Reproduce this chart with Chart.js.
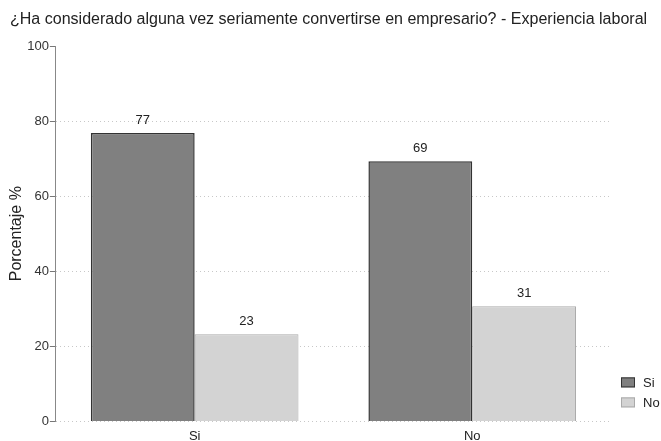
<!DOCTYPE html>
<html>
<head>
<meta charset="utf-8">
<script src="https://cdn.jsdelivr.net/npm/chart.js@4/dist/chart.umd.min.js"></script>
<style>
html,body{margin:0;padding:0;background:#fff;}
#wrap{width:661px;height:441px;}
</style>
</head>
<body>
<div id="wrap"><canvas id="c" width="661" height="441"></canvas></div>
<script>
const categories = ["Si", "No"];
const seriesNames = ["Si", "No"];
const siValues = [76.8, 69.3];
const noValues = [23.2, 30.7];
const yTicks = [0, 20, 40, 60, 80, 100];
const chartTitle = '¿Ha considerado alguna vez seriamente convertirse en empresario? - Experiencia laboral';

const FONT = '"Liberation Sans", Arial, sans-serif';

const valueLabels = {
  id: 'valueLabels',
  afterDatasetsDraw(chart) {
    const ctx = chart.ctx;
    ctx.save();
    ctx.font = '13px ' + FONT;
    ctx.fillStyle = '#222';
    ctx.textAlign = 'center';
    ctx.textBaseline = 'bottom';
    chart.data.datasets.forEach((ds, i) => {
      chart.getDatasetMeta(i).data.forEach((bar, j) => {
        ctx.fillText(Math.round(ds.data[j]).toString(), bar.x, bar.y - 6);
      });
    });
    ctx.restore();
  }
};

const customTitle = {
  id: 'customTitle',
  afterDraw(chart) {
    const ctx = chart.ctx;
    ctx.save();
    ctx.font = '16px ' + FONT;
    const w = ctx.measureText(chartTitle).width;
    const size = Math.min(17, 16 * 638 / w);
    ctx.font = size.toFixed(2) + 'px ' + FONT;
    ctx.fillStyle = '#222';
    ctx.textAlign = 'left';
    ctx.textBaseline = 'middle';
    ctx.fillText(chartTitle, 10, 20);
    ctx.restore();
  }
};

const customLegend = {
  id: 'customLegend',
  afterDraw(chart) {
    const ctx = chart.ctx;
    const x0 = chart.chartArea.right + 10;
    const yBottom = chart.chartArea.bottom - 19;
    const n = chart.data.datasets.length;
    ctx.save();
    ctx.font = '13px ' + FONT;
    ctx.textAlign = 'left';
    ctx.textBaseline = 'middle';
    chart.data.datasets.forEach((ds, i) => {
      const cy = yBottom - (n - 1 - i) * 20;
      ctx.fillStyle = ds.backgroundColor;
      ctx.fillRect(x0, cy - 5, 14, 10);
      ctx.strokeStyle = ds.borderColor;
      ctx.lineWidth = 1;
      ctx.strokeRect(x0 + 0.5, cy - 4.5, 13, 9);
      ctx.fillStyle = '#222';
      ctx.fillText(ds.label, x0 + 22, cy + 1);
    });
    ctx.restore();
  }
};

new Chart(document.getElementById('c'), {
  type: 'bar',
  data: {
    labels: categories,
    datasets: [
      { label: seriesNames[0], data: siValues, backgroundColor: '#808080', borderColor: '#333333', borderWidth: 1.5, barPercentage: 1, categoryPercentage: 0.748 },
      { label: seriesNames[1], data: noValues, backgroundColor: '#d3d3d3', borderColor: '#aaaaaa', borderWidth: 1, barPercentage: 1, categoryPercentage: 0.748 }
    ]
  },
  options: {
    responsive: false,
    animation: false,
    layout: { padding: { left: 3, right: 50, top: 46, bottom: -10 } },
    plugins: {
      title: { display: false },
      legend: { display: false },
      tooltip: { enabled: false }
    },
    scales: {
      x: {
        grid: { display: false, drawTicks: false },
        border: { display: false },
        ticks: { color: '#222', padding: 7, font: { family: FONT, size: 13 } }
      },
      y: {
        min: 0, max: 100,
        afterBuildTicks(scale) { scale.ticks = yTicks.map(v => ({ value: v })); },
        grid: {
          color: ctx => (ctx.tick && ctx.tick.value === 100) ? 'rgba(0,0,0,0)' : '#c8c8c8',
          lineWidth: 1,
          tickColor: '#777',
          tickBorderDash: [],
          tickLength: 6
        },
        border: { display: true, color: '#888', width: 1, dash: [1, 3] },
        title: {
          display: true, text: 'Porcentaje %', color: '#222',
          font: { family: FONT, size: 16 }, padding: { top: 4, bottom: 0 }
        },
        ticks: { color: '#333', padding: 1, font: { family: FONT, size: 13 } }
      }
    }
  },
  plugins: [valueLabels, customTitle, customLegend]
});
</script>
</body>
</html>
